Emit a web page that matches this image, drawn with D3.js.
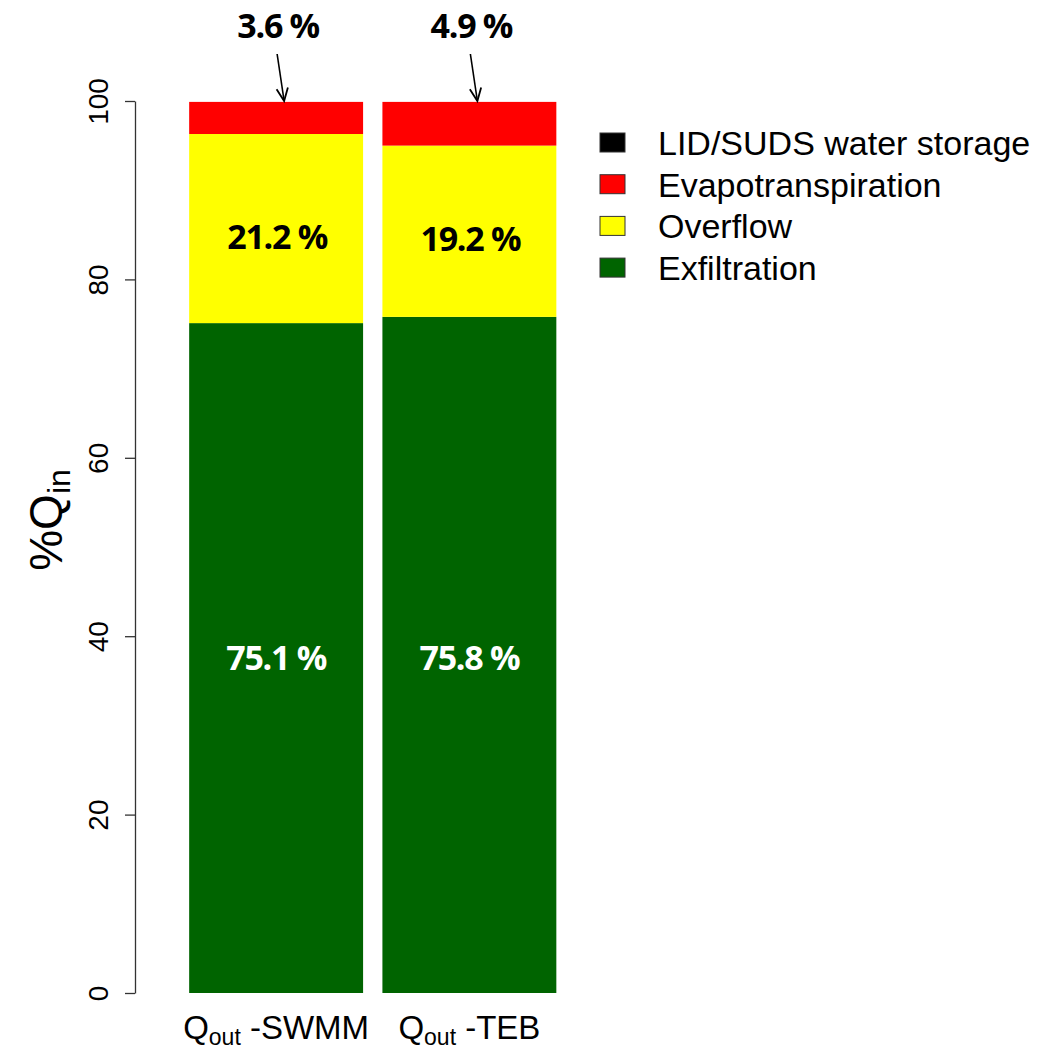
<!DOCTYPE html>
<html><head><meta charset="utf-8">
<script src="https://cdn.jsdelivr.net/npm/d3@7"></script>
<style>body{margin:0;background:#fff;} svg{display:block;}</style>
</head><body>
<svg id="chart" width="1053" height="1053"></svg>
<script>
const categories = ["SWMM", "TEB"];
const seriesNames = ["Exfiltration", "Overflow", "Evapotranspiration", "LID/SUDS water storage"];
const exfiltration = [75.1, 75.8];
const overflow = [21.2, 19.2];
const evapotranspiration = [3.6, 4.9];
const storage = [0.0, 0.0];
const colors = ["#006400", "#FFFF00", "#FF0000", "#000000"];
const yTicks = [0, 20, 40, 60, 80, 100];
const evapLabels = ["3.6 %", "4.9 %"];
const overflowLabels = ["21.2 %", "19.2 %"];
const exfLabels = ["75.1 %", "75.8 %"];

const svg = d3.select("#chart");
const y = d3.scaleLinear().domain([0, 100]).range([993, 101]);
const x = d3.scaleBand().domain(categories).range([179.5, 566]).paddingInner(0.1).paddingOuter(0.05);

const rows = categories.map((c, i) => ({cat: c, Exfiltration: exfiltration[i], Overflow: overflow[i],
  Evapotranspiration: evapotranspiration[i], "LID/SUDS water storage": storage[i]}));
const stacked = d3.stack().keys(seriesNames)(rows);

svg.append("g").selectAll("g").data(stacked).join("g")
  .attr("fill", (d, i) => colors[i])
  .selectAll("rect").data(d => d).join("rect")
  .attr("x", d => x(d.data.cat))
  .attr("width", x.bandwidth())
  .attr("y", d => y(d[1]))
  .attr("height", d => y(d[0]) - y(d[1]));

// Y axis
const axis = d3.axisLeft(y).tickValues(yTicks).tickSize(10).tickSizeOuter(0);
const ga = svg.append("g").attr("transform", "translate(135,0)").call(axis);
ga.select(".domain").attr("stroke", "#333").attr("stroke-width", 1.3);
ga.selectAll(".tick line").attr("stroke", "#333").attr("stroke-width", 1.3);
ga.selectAll(".tick text").remove();
ga.selectAll(".tick").append("text")
  .attr("transform", "translate(-27,0) rotate(-90)")
  .attr("text-anchor", "middle")
  .attr("fill", "#000")
  .style("font-family", "Liberation Sans, Arial, sans-serif")
  .style("font-size", "28px")
  .text(d => d);

// Y label
const yl = svg.append("text")
  .attr("transform", "translate(62,520) rotate(-90)")
  .attr("text-anchor", "middle")
  .style("font-family", "Liberation Sans, Arial, sans-serif")
  .style("font-size", "46px");
yl.append("tspan").text("%Q");
yl.append("tspan").attr("dy", 8).style("font-size", "32px").text("in");

// X labels
categories.forEach((c, i) => {
  const t = svg.append("text")
    .attr("x", x(c) + x.bandwidth() / 2)
    .attr("y", 1039)
    .attr("text-anchor", "middle")
    .style("font-family", "Liberation Sans, Arial, sans-serif")
    .style("font-size", "33px");
  t.append("tspan").text("Q");
  t.append("tspan").attr("dy", 6).style("font-size", "23px").text("out");
  t.append("tspan").attr("dy", -6).text(" -" + c);
});

const lblFont = "'Open Sans', 'Noto Sans', sans-serif";
const lblSize = "34px";
const lblSpacing = "-1.3px";
// Segment labels
categories.forEach((c, i) => {
  const cx = x(c) + x.bandwidth() / 2;
  svg.append("text").attr("x", cx + 1).attr("y", y(exfiltration[i] + overflow[i] / 2) + 20)
    .attr("text-anchor", "middle").style("font-family", lblFont).style("font-weight", "bold")
    .style("font-size", lblSize).style("letter-spacing", lblSpacing).attr("fill", "#000").text(overflowLabels[i]);
  svg.append("text").attr("x", cx).attr("y", 670)
    .attr("text-anchor", "middle").style("font-family", lblFont).style("font-weight", "bold")
    .style("font-size", lblSize).style("letter-spacing", lblSpacing).attr("fill", "#fff").text(exfLabels[i]);
  svg.append("text").attr("x", cx + 2).attr("y", 38)
    .attr("text-anchor", "middle").style("font-family", lblFont).style("font-weight", "bold")
    .style("font-size", lblSize).style("letter-spacing", lblSpacing).attr("fill", "#000").text(evapLabels[i]);
  // arrow
  const x0 = cx + 1, y0 = 54, x1 = cx + 8, y1 = y(100);
  svg.append("line").attr("x1", x0).attr("y1", y0).attr("x2", x1).attr("y2", y1)
    .attr("stroke", "#000").attr("stroke-width", 1.6);
  const ang = Math.atan2(y1 - y0, x1 - x0);
  const L = 14, spread = 0.42;
  svg.append("path")
    .attr("d", `M${x1 - L * Math.cos(ang - spread)},${y1 - L * Math.sin(ang - spread)} L${x1},${y1} L${x1 - L * Math.cos(ang + spread)},${y1 - L * Math.sin(ang + spread)}`)
    .attr("fill", "none").attr("stroke", "#000").attr("stroke-width", 1.8);
});

// Legend
const legendOrder = [3, 2, 1, 0];
const lg = svg.append("g");
legendOrder.forEach((si, k) => {
  const yy = 143 + k * 41.7;
  lg.append("rect").attr("x", 600).attr("y", yy - 10).attr("width", 25).attr("height", 19)
    .attr("fill", colors[si]).attr("stroke", "#333").attr("stroke-width", 1);
  lg.append("text").attr("x", 658).attr("y", yy + 12)
    .style("font-family", "Liberation Sans, Arial, sans-serif").style("font-size", "34px")
    .text(seriesNames[si]);
});
</script>
</body></html>
